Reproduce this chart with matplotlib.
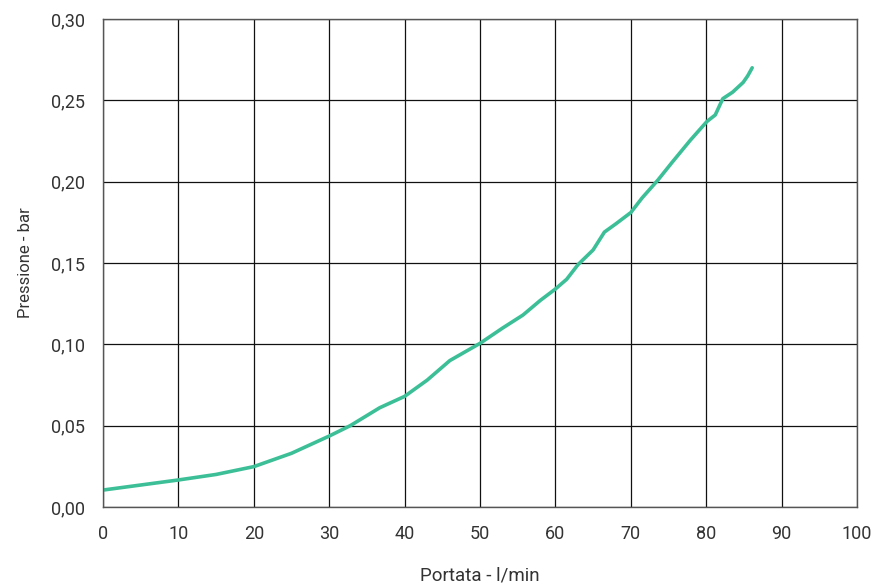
import matplotlib
matplotlib.use("Agg")
import matplotlib.pyplot as plt
from matplotlib.ticker import FuncFormatter

portata = [0, 5, 10, 15, 20, 25, 30, 32.8, 36.7, 40, 43, 46, 50, 53, 55.7, 58, 60, 61.5, 63, 65, 66.5, 68, 70, 71.5, 73.6, 75.5, 77.9, 80.1, 81.2, 82.2, 83.5, 84.9, 85.5, 86.1]
pressione = [0.0104, 0.0135, 0.0166, 0.0200, 0.0248, 0.0330, 0.0436, 0.050, 0.061, 0.0680, 0.078, 0.090, 0.1006, 0.110, 0.118, 0.127, 0.134, 0.140, 0.149, 0.158, 0.169, 0.174, 0.181, 0.190, 0.201, 0.212, 0.2255, 0.237, 0.241, 0.251, 0.255, 0.261, 0.265, 0.270]

xticks = list(range(0, 101, 10))
yticks = [0.0, 0.05, 0.10, 0.15, 0.20, 0.25, 0.30]

plt.rcParams['font.family'] = ['Roboto', 'DejaVu Sans']
fig = plt.figure(figsize=(8.72, 5.88), dpi=100)
ax = fig.add_axes([0.1181, 0.1378, 0.8647, 0.8299])
ax.plot(portata, pressione, color='#3cbf97', lw=2.6, solid_capstyle='round')
ax.set_xlim(0, 100)
ax.set_ylim(0, 0.30)
ax.set_xticks(xticks)
ax.set_yticks(yticks)
ax.yaxis.set_major_formatter(FuncFormatter(lambda v, p: f"{v:.2f}".replace('.', ',')))
ax.grid(True, color='#111111', lw=0.9)
ax.set_axisbelow(True)
for s in ax.spines.values():
    s.set_color('#555555')
    s.set_linewidth(1.0)
ax.tick_params(length=0, pad=13, labelsize=13, colors='#333333')
ax.set_xlabel('Portata - l/min', fontsize=13.5, color='#333333', labelpad=17)
ax.set_ylabel('Pressione - bar', fontsize=12, color='#333333', labelpad=13)
fig.savefig('out.png', dpi=100)
